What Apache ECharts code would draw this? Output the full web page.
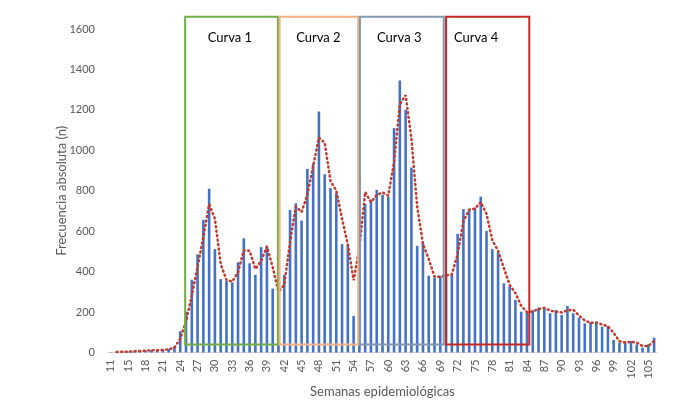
<!DOCTYPE html>
<html>
<head>
<meta charset="utf-8">
<script src="https://cdn.jsdelivr.net/npm/echarts@6/dist/echarts.min.js"></script>
<style>
  html, body { margin: 0; padding: 0; background: #fff; }
  #chart { width: 698px; height: 401px; }
</style>
</head>
<body>
<div id="chart"></div>
<script>
const weeks = [
  '11', '13', '14', '15', '16', '17', '18', '19', '20', '21', '22', '23',
  '24', '25', '26', '27', '28', '29', '30', '31', '32', '33',
  '34', '35', '36', '37', '38', '39', '40', '41', '42', '43',
  '44', '45', '46', '47', '48', '49', '50', '51', '52', '53',
  '54', '55', '56', '57', '58', '59', '60', '61', '62', '63',
  '64', '65', '66', '67', '68', '69', '70', '71', '72', '73',
  '74', '75', '76', '77', '78', '79', '80', '81', '82', '83',
  '84', '85', '86', '87', '88', '89', '90', '91', '92', '93',
  '94', '95', '96', '97', '98', '99', '100', '101', '102', '103',
  '104', '105', '106'
];

const cases = [
  2, 3, 4, 5, 6, 8, 10, 12, 10, 14, 18, 30,
  106, 202, 360, 486, 656, 810, 512, 363, 354, 347,
  446, 565, 441, 384, 521, 527, 316, 285, 384, 705,
  738, 652, 908, 933, 1192, 882, 813, 788, 536, 532,
  181, 850, 735, 752, 804, 780, 771, 1110, 1345, 1200,
  915, 528, 545, 380, 370, 378, 385, 386, 587, 709,
  705, 716, 771, 601, 511, 494, 342, 328, 260, 202,
  198, 208, 222, 219, 194, 210, 186, 230, 194, 172,
  144, 149, 148, 128, 131, 62, 49, 49, 57, 40,
  24, 40, 73
];

const movingAvg = [
  null, 2.5, 3.5, 4.5, 5.5, 7, 9, 11, 11, 12, 16, 24,
  68, 154, 281, 423, 571, 733, 661, 438, 359, 351,
  397, 506, 503, 413, 453, 524, 422, 301, 335, 545,
  722, 695, 780, 921, 1063, 1037, 848, 801, 662, 534,
  357, 516, 793, 744, 778, 792, 776, 941, 1228, 1273,
  1058, 722, 537, 463, 375, 374, 382, 386, 487, 648,
  707, 711, 744, 686, 556, 503, 418, 335, 294, 231,
  200, 203, 215, 221, 207, 202, 198, 208, 212, 183,
  158, 147, 149, 138, 130, 97, 56, 49, 53, 49,
  32, 32, 57
];

// recuadros de cada curva (indices de categoria, pueden ser fraccionarios)
const curveNames = ['Curva 1', 'Curva 2', 'Curva 3', 'Curva 4'];
const curveFrom = [12.85, 29.2, 43.1, 58.0];
const curveTo = [28.9, 42.8, 57.6, 72.4];
const curveLabelAt = [20.6, 35.9, 49.9, 63.2];
const curveColors = ['#70AD47', '#F4B183', '#8497B0', '#C62828'];
const boxBottom = 40;
const boxTop = 1660;

const chart = echarts.init(document.getElementById('chart'));
const font = 'Lato, "Open Sans", sans-serif';

chart.setOption({
  animation: false,
  textStyle: { fontFamily: font },
  grid: {
    left: 108, right: 41, top: 29, bottom: 48.5,
    containLabel: false,
    outerBoundsMode: 'none'
  },
  xAxis: {
    type: 'category',
    data: weeks,
    name: 'Semanas epidemiológicas',
    nameLocation: 'middle',
    nameGap: 33,
    nameMoveOverlap: false,
    nameTextStyle: { color: '#595959', fontSize: 13, fontFamily: font },
    axisLine: { lineStyle: { color: '#D9D9D9', width: 1 } },
    axisTick: { show: false },
    axisLabel: {
      interval: 2,
      rotate: 90,
      margin: 7,
      color: '#595959',
      fontSize: 11,
      fontFamily: font
    },
    splitLine: { show: false }
  },
  yAxis: {
    type: 'value',
    min: 0,
    max: 1600,
    interval: 200,
    name: 'Frecuencia absoluta (n)',
    nameLocation: 'middle',
    nameGap: 40,
    nameMoveOverlap: false,
    nameTextStyle: { color: '#595959', fontSize: 13, fontFamily: font },
    axisLine: { show: false },
    axisTick: { show: false },
    axisLabel: {
      margin: 13,
      color: '#595959',
      fontSize: 11,
      fontFamily: font,
      formatter: (v) => String(v)
    },
    splitLine: { show: false }
  },
  series: [
    {
      type: 'bar',
      data: cases,
      barWidth: 2.6,
      itemStyle: { color: '#4472C4' }
    },
    {
      type: 'line',
      data: movingAvg,
      symbol: 'none',
      z: 3,
      lineStyle: { color: '#C0392B', width: 2.5, type: [1, 3.5], cap: 'round' }
    }
  ]
});

function xAt(k) {
  const i = Math.floor(k);
  const a = chart.convertToPixel({ xAxisIndex: 0 }, i);
  const b = chart.convertToPixel({ xAxisIndex: 0 }, i + 1);
  return a + (b - a) * (k - i);
}

function yAt(v) {
  return chart.convertToPixel({ yAxisIndex: 0 }, v);
}

const graphics = [];
curveNames.forEach((name, i) => {
  const x1 = xAt(curveFrom[i]);
  const x2 = xAt(curveTo[i]);
  const y1 = yAt(boxTop);
  const y2 = yAt(boxBottom);
  graphics.push({
    type: 'rect',
    z: 10,
    shape: { x: x1, y: y1, width: x2 - x1, height: y2 - y1 },
    style: { fill: 'none', stroke: curveColors[i], lineWidth: 2 }
  });
  graphics.push({
    type: 'text',
    z: 11,
    x: xAt(curveLabelAt[i]),
    y: yAt(1557),
    style: {
      text: name,
      fill: '#000',
      font: '13px ' + font,
      align: 'center',
      verticalAlign: 'middle'
    }
  });
});

chart.setOption({ graphic: graphics });
</script>
</body>
</html>
